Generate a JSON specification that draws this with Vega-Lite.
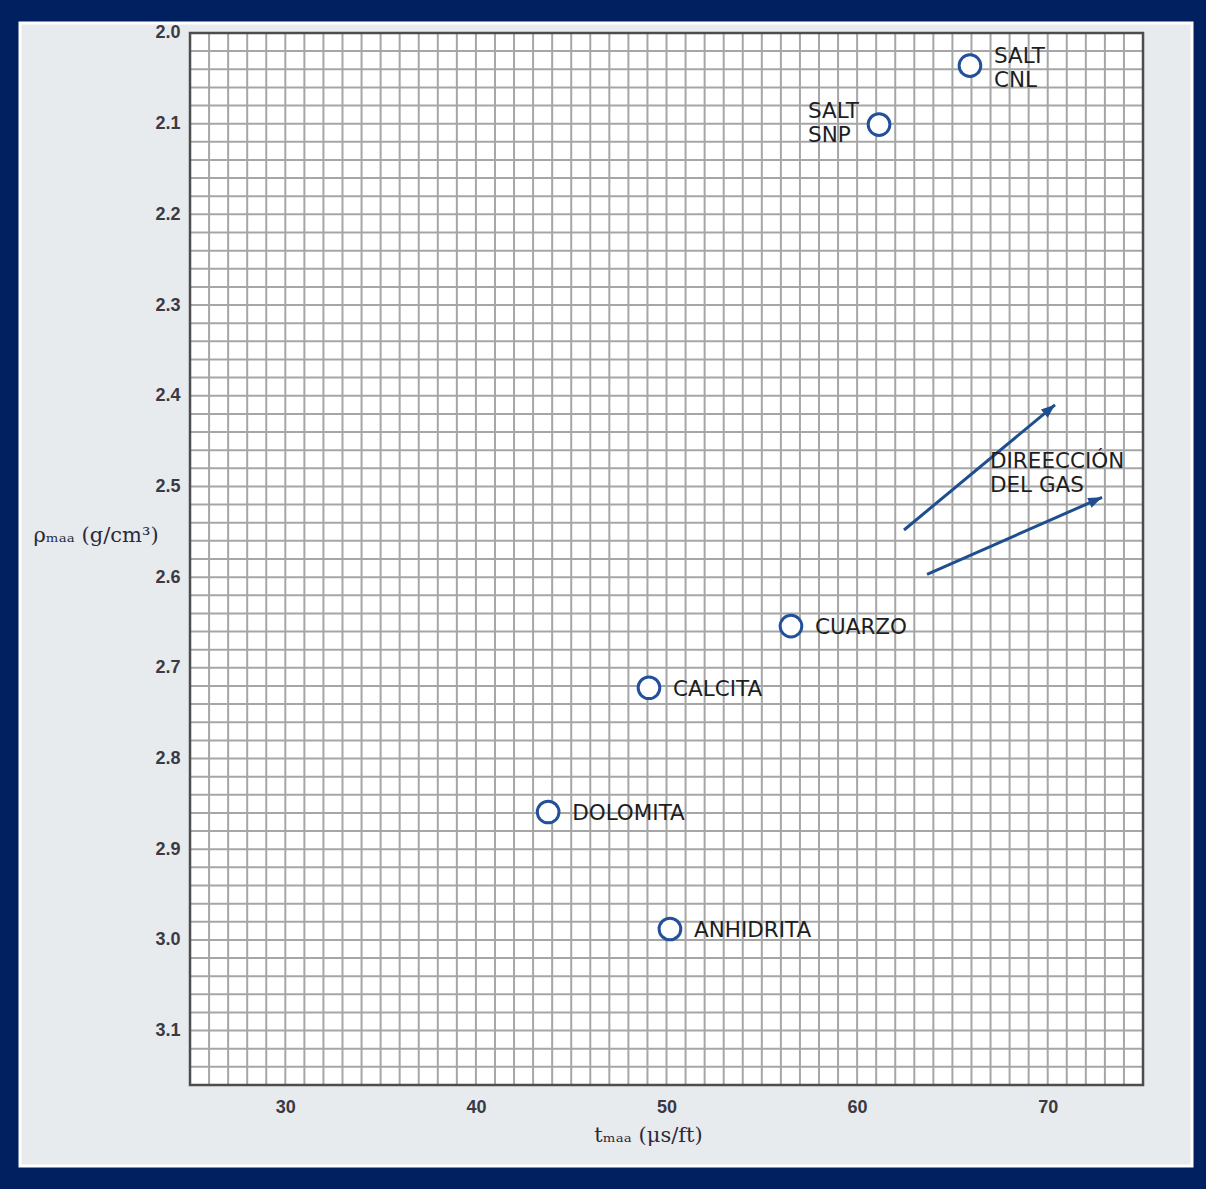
{
  "$schema": "https://vega.github.io/schema/vega-lite/v6.json",
  "width": 1172,
  "height": 1143,
  "autosize": {"type": "none"},
  "padding": {"left": 20, "top": 23, "right": 14, "bottom": 23},
  "background": "#002060",
  "config": {
    "view": {"fill": "#e8ebee", "stroke": "#ffffff", "strokeWidth": 3},
    "axis": {
      "grid": false, "domain": false, "ticks": false,
      "labelFont": "Liberation Sans", "labelFontSize": 18, "labelFontWeight": "bold",
      "labelColor": "#3a3a44", "labelFlush": false, "labelOverlap": false,
      "titleFont": "DejaVu Serif", "titleFontSize": 21, "titleFontWeight": "normal", "titleColor": "#2a2a3a"
    }
  },
  "datasets": {
    "minerals": [
      {"name": "SALT CNL", "label": "SALT\nCNL", "t": 65.92, "rho": 2.036},
      {"name": "SALT SNP", "label": "SALT\nSNP", "t": 61.15, "rho": 2.101},
      {"name": "CUARZO", "label": "CUARZO", "t": 56.53, "rho": 2.654},
      {"name": "CALCITA", "label": "CALCITA", "t": 49.08, "rho": 2.722},
      {"name": "DOLOMITA", "label": "DOLOMITA", "t": 43.79, "rho": 2.859},
      {"name": "ANHIDRITA", "label": "ANHIDRITA", "t": 50.18, "rho": 2.988}
    ],
    "arrows": [
      {"arrow": "a", "end": "tail", "t": 62.46, "rho": 2.548},
      {"arrow": "a", "end": "tip", "t": 70.38, "rho": 2.41},
      {"arrow": "b", "end": "tail", "t": 63.67, "rho": 2.597},
      {"arrow": "b", "end": "tip", "t": 72.85, "rho": 2.512}
    ],
    "note": [
      {"label": "DIREECCIÓN\nDEL GAS", "t": 66.97, "rho": 2.473}
    ],
    "vgrid": [
      {"t": 26}, {"t": 27}, {"t": 28}, {"t": 29}, {"t": 30}, {"t": 31}, {"t": 32}, {"t": 33}, {"t": 34}, {"t": 35},
      {"t": 36}, {"t": 37}, {"t": 38}, {"t": 39}, {"t": 40}, {"t": 41}, {"t": 42}, {"t": 43}, {"t": 44}, {"t": 45},
      {"t": 46}, {"t": 47}, {"t": 48}, {"t": 49}, {"t": 50}, {"t": 51}, {"t": 52}, {"t": 53}, {"t": 54}, {"t": 55},
      {"t": 56}, {"t": 57}, {"t": 58}, {"t": 59}, {"t": 60}, {"t": 61}, {"t": 62}, {"t": 63}, {"t": 64}, {"t": 65},
      {"t": 66}, {"t": 67}, {"t": 68}, {"t": 69}, {"t": 70}, {"t": 71}, {"t": 72}, {"t": 73}, {"t": 74}
    ],
    "hgrid": [
      {"rho": 2.02}, {"rho": 2.04}, {"rho": 2.06}, {"rho": 2.08}, {"rho": 2.1}, {"rho": 2.12}, {"rho": 2.14}, {"rho": 2.16}, {"rho": 2.18}, {"rho": 2.2},
      {"rho": 2.22}, {"rho": 2.24}, {"rho": 2.26}, {"rho": 2.28}, {"rho": 2.3}, {"rho": 2.32}, {"rho": 2.34}, {"rho": 2.36}, {"rho": 2.38}, {"rho": 2.4},
      {"rho": 2.42}, {"rho": 2.44}, {"rho": 2.46}, {"rho": 2.48}, {"rho": 2.5}, {"rho": 2.52}, {"rho": 2.54}, {"rho": 2.56}, {"rho": 2.58}, {"rho": 2.6},
      {"rho": 2.62}, {"rho": 2.64}, {"rho": 2.66}, {"rho": 2.68}, {"rho": 2.7}, {"rho": 2.72}, {"rho": 2.74}, {"rho": 2.76}, {"rho": 2.78}, {"rho": 2.8},
      {"rho": 2.82}, {"rho": 2.84}, {"rho": 2.86}, {"rho": 2.88}, {"rho": 2.9}, {"rho": 2.92}, {"rho": 2.94}, {"rho": 2.96}, {"rho": 2.98}, {"rho": 3.0},
      {"rho": 3.02}, {"rho": 3.04}, {"rho": 3.06}, {"rho": 3.08}, {"rho": 3.1}, {"rho": 3.12}, {"rho": 3.14}
    ]
  },
  "layer": [
    {
      "data": {"values": [{}]},
      "mark": {"type": "rect", "fill": "#ffffff", "strokeWidth": 0},
      "encoding": {
        "x": {
          "datum": 25, "type": "quantitative",
          "scale": {"domain": [16.08, 77.57], "nice": false, "zero": false},
          "axis": {"values": [30, 40, 50, 60, 70], "offset": -81, "labelPadding": 13,
                   "title": "tₘₐₐ (μs/ft)", "titleX": 628, "titleY": 50, "titleAlign": "center", "titleBaseline": "middle"}
        },
        "x2": {"datum": 75},
        "y": {
          "datum": 2.0, "type": "quantitative",
          "scale": {"domain": [1.989, 3.2493], "reverse": true, "nice": false, "zero": false},
          "axis": {"values": [2.0, 2.1, 2.2, 2.3, 2.4, 2.5, 2.6, 2.7, 2.8, 2.9, 3.0, 3.1], "format": ".1f", "offset": -170, "labelPadding": 10,
                   "title": "ρₘₐₐ (g/cm³)", "titleAngle": 0, "titleX": -157, "titleY": 512, "titleAlign": "left", "titleBaseline": "middle"}
        },
        "y2": {"datum": 3.16}
      }
    },
    {
      "data": {"name": "vgrid"},
      "mark": {"type": "rule", "color": "#a6a6a6", "strokeWidth": 2},
      "encoding": {
        "x": {"field": "t", "type": "quantitative"},
        "y": {"datum": 2.0, "type": "quantitative"},
        "y2": {"datum": 3.16}
      }
    },
    {
      "data": {"name": "hgrid"},
      "mark": {"type": "rule", "color": "#a6a6a6", "strokeWidth": 2},
      "encoding": {
        "y": {"field": "rho", "type": "quantitative"},
        "x": {"datum": 25, "type": "quantitative"},
        "x2": {"datum": 75}
      }
    },
    {
      "data": {"values": [{}]},
      "mark": {"type": "rect", "fill": null, "fillOpacity": 0, "stroke": "#4d4d4d", "strokeWidth": 2.5},
      "encoding": {
        "x": {"datum": 25, "type": "quantitative"},
        "x2": {"datum": 75},
        "y": {"datum": 2.0, "type": "quantitative"},
        "y2": {"datum": 3.16}
      }
    },
    {
      "data": {"name": "arrows"},
      "mark": {"type": "line", "color": "#1f4e8f", "strokeWidth": 3},
      "encoding": {
        "x": {"field": "t", "type": "quantitative"},
        "y": {"field": "rho", "type": "quantitative"},
        "detail": {"field": "arrow"},
        "order": {"field": "t"}
      }
    },
    {
      "data": {"name": "arrows"},
      "transform": [{"filter": "datum.arrow === 'a' && datum.end === 'tip'"}],
      "mark": {"type": "point", "shape": "M0,0L-0.45,1.15L0.45,1.15Z", "filled": true, "color": "#1f4e8f", "opacity": 1, "size": 576, "angle": 50.4},
      "encoding": {
        "x": {"field": "t", "type": "quantitative"},
        "y": {"field": "rho", "type": "quantitative"}
      }
    },
    {
      "data": {"name": "arrows"},
      "transform": [{"filter": "datum.arrow === 'b' && datum.end === 'tip'"}],
      "mark": {"type": "point", "shape": "M0,0L-0.45,1.15L0.45,1.15Z", "filled": true, "color": "#1f4e8f", "opacity": 1, "size": 576, "angle": 66.3},
      "encoding": {
        "x": {"field": "t", "type": "quantitative"},
        "y": {"field": "rho", "type": "quantitative"}
      }
    },
    {
      "data": {"name": "minerals"},
      "mark": {"type": "point", "shape": "circle", "size": 470, "fill": "#ffffff", "fillOpacity": 1, "stroke": "#23509a", "strokeWidth": 3, "opacity": 1},
      "encoding": {
        "x": {"field": "t", "type": "quantitative"},
        "y": {"field": "rho", "type": "quantitative"}
      }
    },
    {
      "data": {"name": "minerals"},
      "transform": [{"filter": "datum.name === 'SALT CNL'"}],
      "mark": {"type": "text", "font": "DejaVu Sans", "fontSize": 21.5, "color": "#1e1e1e", "align": "left", "baseline": "middle", "lineBreak": "\n", "lineHeight": 24, "dx": 24, "dy": -9},
      "encoding": {
        "x": {"field": "t", "type": "quantitative"},
        "y": {"field": "rho", "type": "quantitative"},
        "text": {"field": "label"}
      }
    },
    {
      "data": {"name": "minerals"},
      "transform": [{"filter": "datum.name === 'SALT SNP'"}],
      "mark": {"type": "text", "font": "DejaVu Sans", "fontSize": 21.5, "color": "#1e1e1e", "align": "left", "baseline": "middle", "lineBreak": "\n", "lineHeight": 24, "dx": -71, "dy": -13},
      "encoding": {
        "x": {"field": "t", "type": "quantitative"},
        "y": {"field": "rho", "type": "quantitative"},
        "text": {"field": "label"}
      }
    },
    {
      "data": {"name": "minerals"},
      "transform": [{"filter": "datum.name !== 'SALT SNP' && datum.name !== 'SALT CNL'"}],
      "mark": {"type": "text", "font": "DejaVu Sans", "fontSize": 21.5, "color": "#1e1e1e", "align": "left", "baseline": "middle", "dx": 24, "dy": 2},
      "encoding": {
        "x": {"field": "t", "type": "quantitative"},
        "y": {"field": "rho", "type": "quantitative"},
        "text": {"field": "label"}
      }
    },
    {
      "data": {"name": "note"},
      "mark": {"type": "text", "font": "DejaVu Sans", "fontSize": 21.5, "color": "#1e1e1e", "align": "left", "baseline": "middle", "lineBreak": "\n", "lineHeight": 24},
      "encoding": {
        "x": {"field": "t", "type": "quantitative"},
        "y": {"field": "rho", "type": "quantitative"},
        "text": {"field": "label"}
      }
    }
  ]
}
